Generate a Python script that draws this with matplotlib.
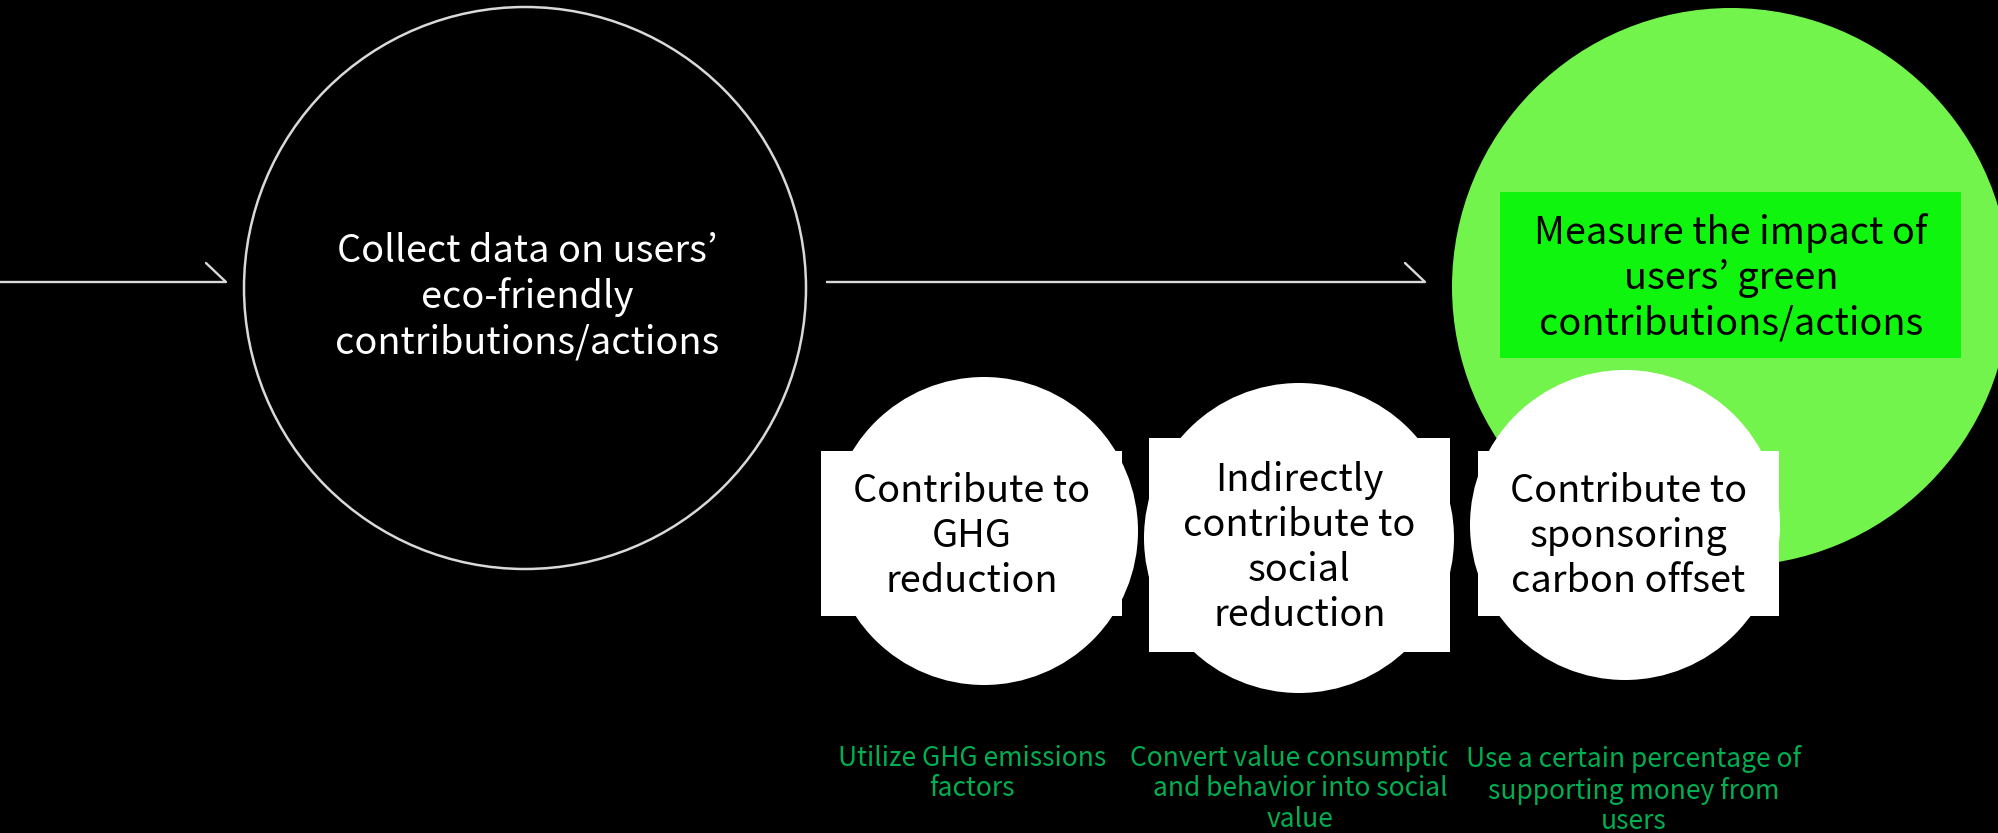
import matplotlib
matplotlib.use("Agg")
import matplotlib.pyplot as plt
from matplotlib.patches import Circle, Rectangle

plt.rcParams['font.family'] = ['Noto Sans CJK KR', 'DejaVu Sans']

# ---- content ----
collect_label = "Collect data on users\u2019\neco-friendly\ncontributions/actions"
measure_label = "Measure the impact of\nusers\u2019 green\ncontributions/actions"
impact_labels = ["Contribute to\nGHG\nreduction",
                 "Indirectly\ncontribute to\nsocial\nreduction",
                 "Contribute to\nsponsoring\ncarbon offset"]
method_labels = ["Utilize GHG emissions\nfactors",
                 "Convert value consumption\nand behavior into social\nvalue",
                 "Use a certain percentage of\nsupporting money from\nusers"]

# ---- layout (pixel space) ----
W, H = 1999, 833
fig = plt.figure(figsize=(W / 100, H / 100), dpi=100, facecolor='black')
ax = fig.add_axes([0, 0, 1, 1])
ax.set_xlim(0, W)
ax.set_ylim(H, 0)
ax.set_facecolor('black')
ax.axis('off')

LINE = '#d9d9d9'
GREEN_TXT = '#00b050'
BIG_FS = 27.3
SMALL_FS = 19
LS = 1.21
FW = 'light'

# big black circle
ax.add_patch(Circle((525, 288), 281, facecolor='black', edgecolor=LINE, lw=1.8, zorder=2))
ax.text(527, 297, collect_label, color='white', fontsize=BIG_FS, ha='center', va='center',
        multialignment='center', linespacing=LS, fontweight=FW, zorder=3)

# arrows (half arrowheads)
for (x0, x1) in [(0, 226), (826, 1425)]:
    ax.plot([x0, x1], [282, 282], color=LINE, lw=1.7, solid_capstyle='butt', zorder=2)
    ax.plot([x1 - 20, x1], [263, 282], color=LINE, lw=1.7, solid_capstyle='round', zorder=2)

# green circle + box
ax.add_patch(Circle((1731, 287), 279, facecolor='#73f44c', edgecolor='none', zorder=2))
ax.add_patch(Rectangle((1500, 192), 461, 166, facecolor='#10f50d', edgecolor='none', zorder=3))
ax.text(1731, 278, measure_label, color='black', fontsize=BIG_FS, ha='center', va='center',
        multialignment='center', linespacing=LS, fontweight=FW, zorder=4)

# white circles with boxes
circles = [((984, 531), 154), ((1299, 538), 155), ((1625, 525), 155)]
boxes = [(821, 451, 301, 165), (1149, 438, 301, 214), (1478, 451, 301, 165)]
for (c, r), (bx, by, bw, bh), lab in zip(circles, boxes, impact_labels):
    ax.add_patch(Circle(c, r, facecolor='white', edgecolor='none', zorder=5))
    ax.add_patch(Rectangle((bx, by), bw, bh, facecolor='white', edgecolor='none', zorder=6))
    ax.text(bx + bw / 2, by + bh / 2 + 3, lab, color='black', fontsize=BIG_FS, ha='center',
            va='center', multialignment='center', linespacing=LS, fontweight=FW, zorder=7)

# green descriptions
desc_x = [972, 1300, 1634]
clip_rects = [None, (1100, 700, 347, 133), None]
for x, lab, cr in zip(desc_x, method_labels, clip_rects):
    t = ax.text(x, 745, lab, color=GREEN_TXT, fontsize=SMALL_FS, ha='center', va='top',
                multialignment='center', linespacing=1.16, fontweight=FW, zorder=7,
                clip_on=cr is not None)
    if cr is not None:
        rect = Rectangle((cr[0], cr[1]), cr[2], cr[3], transform=ax.transData)
        t.set_clip_path(rect)

fig.savefig('out.png', dpi=100, facecolor='black')
